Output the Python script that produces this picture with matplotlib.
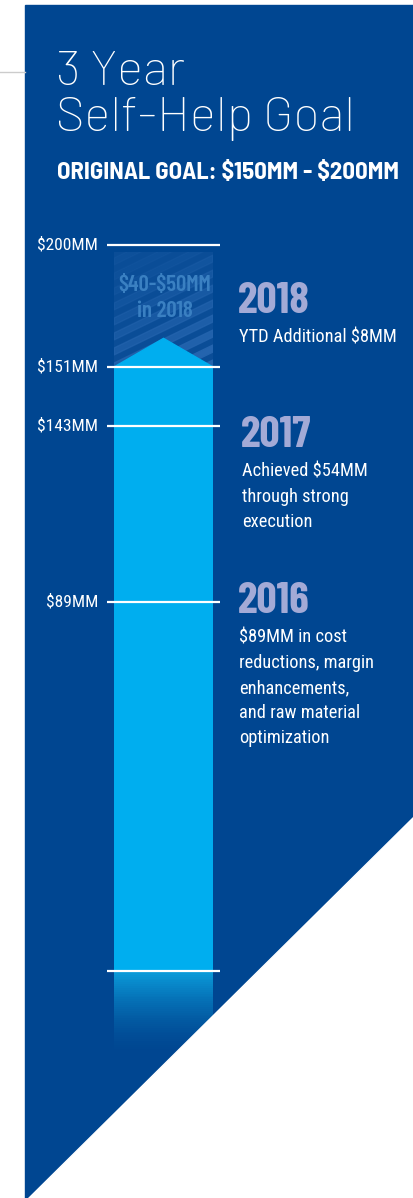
import numpy as np
import matplotlib.pyplot as plt
import matplotlib.transforms as mtransforms
from matplotlib.patches import Rectangle, Polygon
from matplotlib.colors import LinearSegmentedColormap

plt.rcParams['text.parse_math'] = False

# ---------------- data ----------------
levels = [200, 151, 143, 89, 0]
level_labels = ['$200MM', '$151MM', '$143MM', '$89MM', '']
achieved = 151          # cumulative self-help achieved so far ($MM)
goal_low, goal_high = 150, 200
goal_2018_text = '$40-$50MM\nin 2018'
years = ['2018', '2017', '2016']
year_notes = [
    ['YTD Additional $8MM'],
    ['Achieved $54MM', 'through strong', 'execution'],
    ['$89MM in cost', 'reductions, margin', 'enhancements,',
     'and raw material', 'optimization'],
]

# ---------------- style / layout ----------------
W, H = 414, 1198
PANEL = '#004691'
BAR = '#00AEEF'
YEAR_C = '#A3AAD6'
GOAL_C = '#3A80C2'
COND = ['Roboto Condensed', 'DejaVu Sans']
BOLDC = ['Barlow Condensed', 'DejaVu Sans']
SEMIC = ['Barlow Semi Condensed', 'DejaVu Sans']
THIN = ['Barlow', 'DejaVu Sans']

# the infographic is not to scale: piecewise value axis
scale_vals = [-60, 0, 89, 143, 151, 200, 298]
scale_px = np.array([1198, 971, 602, 426, 367, 245, 0])
heights = H - scale_px


def fwd(v):
    return np.interp(v, scale_vals, heights)


def inv(h):
    return np.interp(h, heights, scale_vals)


fig = plt.figure(figsize=(W / 100, H / 100), dpi=100)
fig.patch.set_facecolor('white')
ax = fig.add_axes([0, 0, 1, 1])
ax.set_yscale('function', functions=(fwd, inv))
ax.set_xlim(0, W)
ax.set_ylim(scale_vals[0], scale_vals[-1])
ax.axis('off')

# pixel transform (x right, y down) for decorations
px = mtransforms.Affine2D().scale(1 / W, -1 / H).translate(0, 1) + fig.transFigure

# background panel + thin gray rule at left
ax.add_patch(Rectangle((25, 5), W - 25, H - 5, transform=px, color=PANEL, zorder=0))
ax.plot([0, 25], [72, 72], transform=px, color='#cccccc', lw=1, zorder=0)

# title
ax.text(56, 85, '3 Year', transform=px, color='white', fontsize=35.5,
        family=THIN, fontweight=200)
ax.text(56, 131, 'Self-Help Goal', transform=px, color='white', fontsize=35.5,
        family=THIN, fontweight=200)
ax.text(57, 179, 'ORIGINAL GOAL: $150MM - $200MM', transform=px, color='white',
        fontsize=17.8, family=SEMIC, fontweight='bold')

bar_x, bar_w = 163.5, 99
x0, x1 = bar_x - bar_w / 2, bar_x + bar_w / 2

# 2018 goal zone (hatched)
goal_box = ax.bar(bar_x, goal_high - 3 - achieved, bottom=achieved, width=bar_w,
                  color='#0A4D97', zorder=1)[0]
for y0 in np.arange(265, 440, 15):
    alpha = float(np.interp(y0, [290, 400], [0.15, 1.0]))
    stripe = Polygon([(x0, y0), (x1, y0 - 48), (x1, y0 - 55), (x0, y0 - 7)],
                     transform=px, color='#2464AE', alpha=alpha, zorder=1.5)
    ax.add_patch(stripe)
    stripe.set_clip_path(goal_box)
ax.text(bar_x + 1, 298, goal_2018_text, transform=px, ha='center', va='center',
        color=GOAL_C, fontsize=16.5, family=BOLDC, fontweight=600,
        linespacing=1.35, zorder=2)

# achieved bar with arrow tip
ax.bar(bar_x, achieved, width=bar_w, color=BAR, zorder=2)
ax.fill([x0, bar_x, x1], [achieved, achieved + 11.5, achieved], color=BAR, zorder=2)

# fade below the baseline
fade = LinearSegmentedColormap.from_list('fade', [PANEL, '#0A9BDA'])
yy = np.linspace(-22, 0, 45)
cc = np.linspace(0, 1, 44).reshape(-1, 1) ** 1.6
ax.pcolormesh([x0, x1], yy, cc, cmap=fade, shading='flat', zorder=2)

# level rules and labels
ax.hlines(levels, 107, 220, colors='white', lw=1.6, zorder=4)
for v, lab in zip(levels, level_labels):
    ax.text(98, v, lab, ha='right', va='center', color='white', fontsize=12.5,
            family=COND, zorder=4)

# year annotations
year_x = [239, 242, 239]
year_base = [313, 447, 613]
for yr, notes, xx, yb in zip(years, year_notes, year_x, year_base):
    ax.text(xx - 1, yb, yr, transform=px, color=YEAR_C, fontsize=32,
            family=BOLDC, fontweight='bold', va='baseline')
    for i, line in enumerate(notes):
        ax.text(xx, yb + 30 + 25 * i, line, transform=px, color='white',
                fontsize=13.2, family=COND, va='baseline')

# diagonal cut at the bottom right
ax.add_patch(Polygon([(W, 817), (W + 2, H + 2), (27, H + 2)], transform=px,
                     color='white', zorder=10))

fig.savefig('out.png', dpi=100)
